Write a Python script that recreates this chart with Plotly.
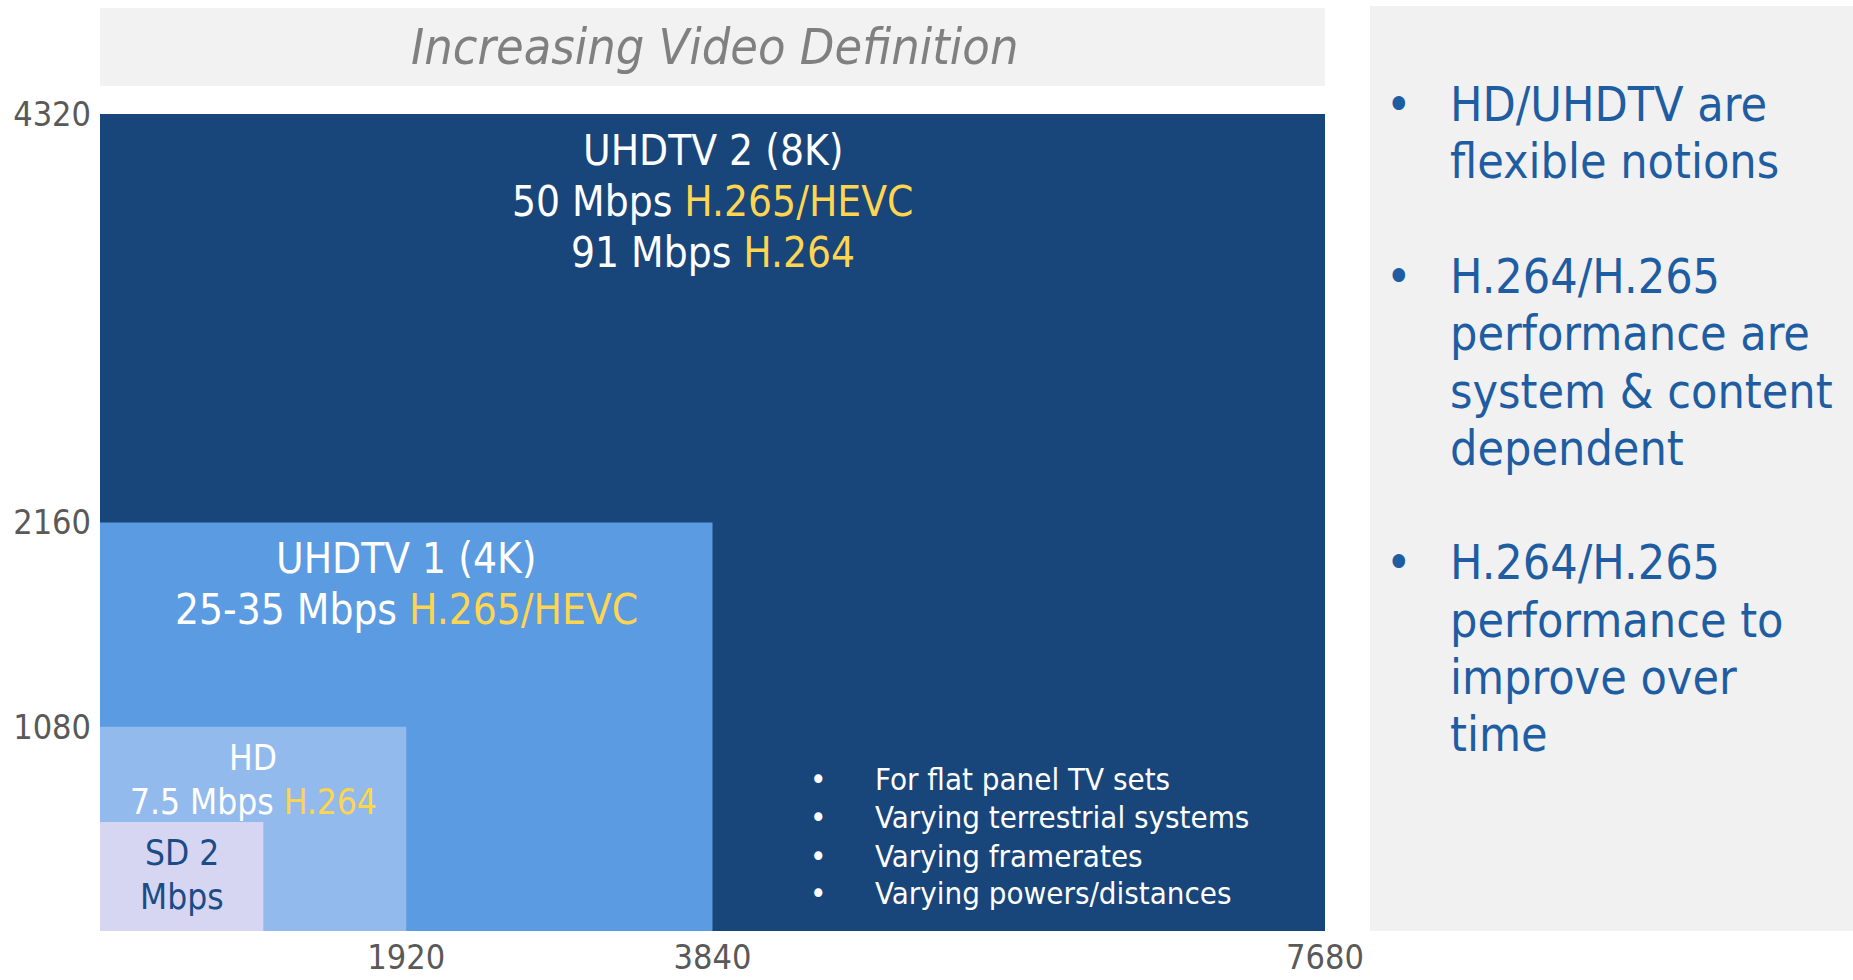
import plotly.graph_objects as go

# Video formats, largest first so smaller ones are drawn on top
formats = ["UHDTV 2 (8K)", "UHDTV 1 (4K)", "HD", "SD"]
widths = [7680, 3840, 1920, 1024]
heights = [4320, 2160, 1080, 576]
bitrate_lines = [
    ["UHDTV 2 (8K)", "50 Mbps |H.265/HEVC", "91 Mbps |H.264"],
    ["UHDTV 1 (4K)", "25-35 Mbps |H.265/HEVC"],
    ["HD", "7.5 Mbps |H.264"],
    ["SD 2", "Mbps"],
]
fill_colors = ["#18457A", "#5B9BE1", "#93BAED", "#D6D6F3"]
text_colors = ["#FFFFFF", "#FFFFFF", "#FFFFFF", "#1B4C85"]
codec_color = "#FFD54F"

x_ticks = [1920, 3840, 7680]
y_ticks = [1080, 2160, 4320]

notes = [
    "For flat panel TV sets",
    "Varying terrestrial systems",
    "Varying framerates",
    "Varying powers/distances",
]
side_points = [
    ["HD/UHDTV are", "flexible notions"],
    ["H.264/H.265", "performance are", "system &amp; content", "dependent"],
    ["H.264/H.265", "performance to", "improve over", "time"],
]
title = "Increasing Video Definition"

W, H = 1853, 980
ML, MR, MT, MB = 100, 528, 114, 49
PW, PH = W - ML - MR, H - MT - MB
FONT = "DejaVu Sans Condensed, DejaVu Sans, sans-serif"


def px(x):
    return (x - ML) / PW


def py(y):
    return (H - MB - y) / PH


fig = go.Figure()

for name, w, h, c in zip(formats, widths, heights, fill_colors):
    fig.add_trace(go.Scatter(
        x=[0, w, w, 0, 0], y=[0, 0, h, h, 0],
        mode="lines", fill="toself", fillcolor=c,
        line=dict(width=0, color=c), name=name,
        hoverinfo="skip", showlegend=False,
    ))


def fmt(line):
    if "|" in line:
        a, b = line.split("|")
        return f'{a}<span style="color:{codec_color}">{b}</span>'
    return line


# Labels inside each box: (font size, first-line offset, line step) in px
label_style = [(42, 36, 51), (42, 36, 51), (35, 31, 44), (35, 31, 44)]
for lines, w, h, tc, (fs, off, step) in zip(bitrate_lines, widths, heights,
                                              text_colors, label_style):
    for i, line in enumerate(lines):
        fig.add_annotation(
            x=w / 2, y=h, xref="x", yref="y", text=fmt(line),
            showarrow=False, xanchor="center", yanchor="middle",
            yshift=-(off + i * step),
            font=dict(family=FONT, size=fs, color=tc),
        )

# Notes inside the 8K area
note_rows = [779, 817, 856, 893]
for row, note in zip(note_rows, notes):
    fig.add_annotation(x=px(818), y=py(row), xref="paper", yref="paper",
                       text="•", showarrow=False, xanchor="center", yanchor="middle",
                       font=dict(family=FONT, size=31, color="white"))
    fig.add_annotation(x=px(873), y=py(row), xref="paper", yref="paper",
                       text=note, showarrow=False, xanchor="left", yanchor="middle",
                       font=dict(family=FONT, size=31, color="white"))

# Title band
fig.add_shape(type="rect", xref="paper", yref="paper",
              x0=0, x1=1, y0=py(86), y1=py(8),
              fillcolor="#F2F2F2", line=dict(width=0), layer="below")
fig.add_annotation(
    x=px(714), y=py(47), xref="paper", yref="paper",
    text=f"<i>{title}</i>", showarrow=False,
    xanchor="center", yanchor="middle",
    font=dict(family=FONT, size=50, color="#808080"),
)

# Side panel
fig.add_shape(type="rect", xref="paper", yref="paper",
              x0=px(1370), x1=px(1853), y0=py(931), y1=py(6),
              fillcolor="#F1F1F1", line=dict(width=0), layer="below")
side_font = dict(family=FONT, size=48, color="#1F5DA3")
row = 104
for para in side_points:
    for j, line in enumerate(para):
        if j == 0:
            fig.add_annotation(x=px(1398), y=py(row), xref="paper", yref="paper",
                               text="•", showarrow=False, xanchor="center",
                               yanchor="middle", font=side_font)
        fig.add_annotation(x=px(1448), y=py(row), xref="paper", yref="paper",
                           text=line, showarrow=False, xanchor="left",
                           yanchor="middle", font=side_font)
        row += 57.3
    row += 57.3

tick_font = dict(family=FONT, size=34, color="#595959")
fig.update_xaxes(range=[0, 7680], tickvals=x_ticks, ticktext=[str(v) for v in x_ticks],
                 showgrid=False, zeroline=False, showline=False, ticks="",
                 tickfont=tick_font, fixedrange=True, ticklabelstandoff=3)
fig.update_yaxes(range=[0, 4320], tickvals=y_ticks, ticktext=[str(v) for v in y_ticks],
                 showgrid=False, zeroline=False, showline=False, ticks="",
                 tickfont=tick_font, fixedrange=True, ticklabelstandoff=8)
fig.update_layout(
    width=W, height=H,
    margin=dict(l=ML, r=MR, t=MT, b=MB, autoexpand=False),
    paper_bgcolor="white", plot_bgcolor="white",
    hovermode=False, showlegend=False,
)
fig.write_html("out.html", config={"displayModeBar": False})
